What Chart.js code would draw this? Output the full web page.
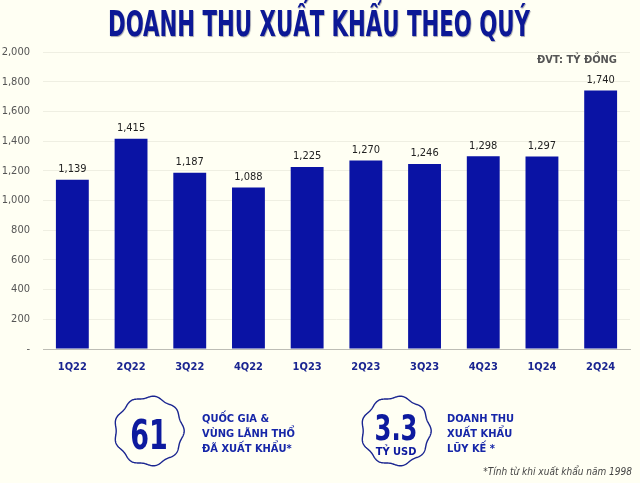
<!DOCTYPE html>
<html>
<head>
<meta charset="utf-8">
<script src="https://cdn.jsdelivr.net/npm/chart.js@4.4.1/dist/chart.umd.min.js"></script>
<style>
  html, body { margin: 0; padding: 0; }
  body { width: 640px; height: 483px; background: #fffff3; position: relative; overflow: hidden; font-family: "DejaVu Sans", sans-serif; }
  #wrap { position: absolute; left: 0; top: 0; width: 640px; height: 380px; }
  .title { position: absolute; top: 3px; left: 0; white-space: nowrap; font-family: "DejaVu Sans Condensed", "DejaVu Sans", sans-serif; font-weight: bold; font-size: 36px; color: #0c1896; text-shadow: 1px 1px 1px rgba(0,0,40,0.35); transform-origin: 0 0; }
  .unit { position: absolute; right: 23px; top: 53px; font: bold 11px "DejaVu Sans Condensed", sans-serif; color: #555; }
  .note { position: absolute; left: 0; top: 0; font-family: "DejaVu Sans Condensed", sans-serif; font-weight: bold; font-size: 11px; line-height: 15px; color: #1626a8; }
  .foot { position: absolute; right: 8px; top: 466px; font: italic 10px "DejaVu Sans Condensed", sans-serif; color: #444; }
  svg { position: absolute; left: 0; top: 0; }
</style>
</head>
<body>
<div id="wrap"><canvas id="barChart" width="640" height="380"></canvas></div>
<div class="title" id="title">DOANH THU XUẤT KHẨU THEO QUÝ</div>
<div class="unit">ĐVT: TỶ ĐỒNG</div>

<svg id="badges" width="640" height="483"></svg>
<div class="note" style="left:202px; top:411px;">QUỐC GIA &amp;<br>VÙNG LÃNH THỔ<br>ĐÃ XUẤT KHẨU*</div>
<div class="note" style="left:447px; top:411px;">DOANH THU<br>XUẤT KHẨU<br>LŨY KẾ *</div>
<div class="foot">*Tính từ khi xuất khẩu năm 1998</div>

<script>
const QUARTERS = ['1Q22', '2Q22', '3Q22', '4Q22', '1Q23', '2Q23', '3Q23', '4Q23', '1Q24', '2Q24'];
const REVENUE = [1139, 1415, 1187, 1088, 1225, 1270, 1246, 1298, 1297, 1740];
const Y_MAX = 2000;
const Y_STEP = 200;

const BAR_COLOR = '#0a13a4';

// fit the title to the width it has in the picture
const titleEl = document.getElementById('title');
const tw = titleEl.getBoundingClientRect().width;
titleEl.style.transform = 'scaleX(' + (422 / tw) + ')';
titleEl.style.left = '108px';

// value labels above each bar
const valueLabels = {
  id: 'valueLabels',
  afterDatasetsDraw(chart) {
    const ctx = chart.ctx;
    const meta = chart.getDatasetMeta(0);
    ctx.save();
    ctx.font = '11px "DejaVu Sans Condensed", sans-serif';
    ctx.fillStyle = '#222';
    ctx.textAlign = 'center';
    ctx.textBaseline = 'bottom';
    meta.data.forEach((bar, i) => {
      ctx.fillText(REVENUE[i].toLocaleString('en-US'), bar.x, bar.y - 5);
    });
    ctx.restore();
  }
};

new Chart(document.getElementById('barChart'), {
  type: 'bar',
  data: {
    labels: QUARTERS,
    datasets: [{
      data: REVENUE,
      backgroundColor: BAR_COLOR,
      barPercentage: 0.56,
      categoryPercentage: 1
    }]
  },
  options: {
    responsive: false,
    animation: false,
    layout: { padding: { top: 52, right: 10, left: 0, bottom: 0 } },
    plugins: {
      legend: { display: false },
      tooltip: { enabled: false }
    },
    scales: {
      x: {
        afterFit: s => { s.height = 31; },
        grid: { display: false },
        border: { color: '#bdbdb5', width: 1 },
        ticks: { color: '#1a2590', font: { family: '"DejaVu Sans Condensed", sans-serif', size: 11, weight: 'bold' }, padding: 4 }
      },
      y: {
        min: 0,
        max: Y_MAX,
        afterFit: s => { s.width = 43; },
        grid: { color: '#efefe2', drawTicks: false },
        border: { display: false },
        ticks: {
          stepSize: Y_STEP,
          padding: 13,
          color: '#555',
          font: { family: '"DejaVu Sans Condensed", sans-serif', size: 11 },
          callback: v => v === 0 ? '-' : v.toLocaleString('en-US')
        }
      }
    }
  },
  plugins: [valueLabels]
});

// wavy badges
function wavyPath(cx, cy, r, amp, waves) {
  let d = '';
  for (let i = 0; i <= 360; i++) {
    const a = i * Math.PI / 180;
    const rr = r + amp * Math.cos(a * waves);
    const x = cx + rr * Math.cos(a), y = cy + rr * Math.sin(a);
    d += (i === 0 ? 'M' : 'L') + x.toFixed(2) + ' ' + y.toFixed(2);
  }
  return d + 'Z';
}
const svg = document.getElementById('badges');
svg.innerHTML =
  '<path d="' + wavyPath(149, 431, 34, 1.2, 9) + '" fill="none" stroke="#1a2590" stroke-width="1.4"/>' +
  '<path d="' + wavyPath(396, 431, 34, 1.2, 9) + '" fill="none" stroke="#1a2590" stroke-width="1.4"/>' +
  '<text x="149" y="449" text-anchor="middle" font-family="DejaVu Sans Condensed" font-weight="bold" font-size="40" fill="#0d1a9e" transform="translate(149 0) scale(0.75 1) translate(-149 0)">61</text>' +
  '<text x="396" y="440" text-anchor="middle" font-family="DejaVu Sans Condensed" font-weight="bold" font-size="36" fill="#0d1a9e" transform="translate(396 0) scale(0.75 1) translate(-396 0)">3.3</text>' +
  '<text x="396" y="455" text-anchor="middle" font-family="DejaVu Sans Condensed" font-weight="bold" font-size="11" fill="#0d1a9e">TỶ USD</text>';
</script>
</body>
</html>
